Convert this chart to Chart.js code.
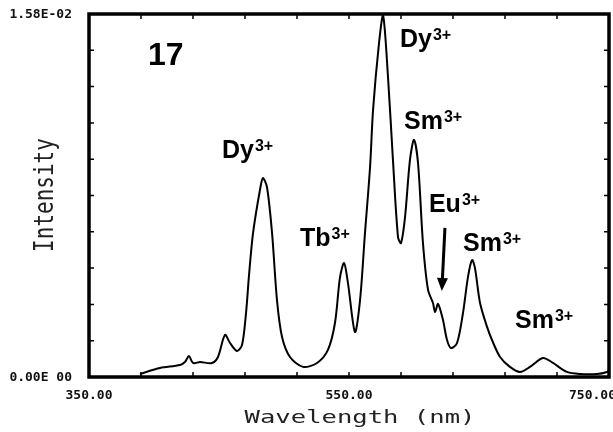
<!DOCTYPE html>
<html>
<head>
<meta charset="utf-8">
<script src="https://cdn.jsdelivr.net/npm/chart.js@4"></script>
<style>
  html, body { margin: 0; padding: 0; background: #fff; }
  #spectrum { display: block; }
</style>
</head>
<body>
<canvas id="spectrum" width="613" height="432"></canvas>
<script>
// emission spectrum, wavelength in nm
const wavelength = [
  389.2, 404.6, 420.0, 423.8, 426.9, 430.0, 435.4, 444.6, 449.2, 454.6,
  458.5, 463.8, 467.7, 470.8, 473.1, 476.2, 481.5, 483.8, 486.9, 490.8,
  494.6, 498.5, 504.6, 514.6, 525.4, 533.8, 539.2, 543.1, 546.2, 549.2,
  554.6, 558.5, 562.3, 566.2, 568.5, 573.1, 576.2, 580.0, 583.8, 587.7,
  590.0, 593.1, 596.9, 600.0, 603.1, 606.9, 610.8, 614.6, 616.2, 618.5,
  622.3, 625.4, 628.5, 633.1, 637.7, 641.5, 644.6, 646.9, 650.8, 656.2,
  660.0, 666.2, 673.8, 681.5, 689.2, 699.2, 706.9, 717.7, 727.7, 740.8,
  748.5, 750.0
];
const intensity = [
  0.00013, 0.00039, 0.00052, 0.00065, 0.00091, 0.00061, 0.00065, 0.00061, 0.00087, 0.00183,
  0.00148, 0.00113, 0.00139, 0.00279, 0.00444, 0.00627, 0.00814, 0.00866, 0.00827, 0.00627,
  0.00335, 0.00174, 0.00087, 0.00044, 0.00061, 0.00118, 0.00235, 0.00435, 0.00496, 0.00409,
  0.00196, 0.00335, 0.00627, 0.00914, 0.01162, 0.01454, 0.01576, 0.01306, 0.00945, 0.00609,
  0.00583, 0.00696, 0.00945, 0.01032, 0.00931, 0.00583, 0.00379, 0.00322, 0.00283, 0.00318,
  0.00248, 0.00161, 0.00126, 0.00148, 0.00279, 0.00435, 0.00509, 0.00474, 0.00322, 0.00218,
  0.00161, 0.00087, 0.00044, 0.00022, 0.00044, 0.00083, 0.00061, 0.00022, 0.00013, 0.00013,
  0.00022, 0.00030
];

// axis ticks and labels
const xTickValues = [350, 550, 750];
const xTickLabels = ["350.00", "550.00", "750.00"];
const yTickValues = [0, 0.0158];
const yTickLabels = ["0.00E 00", "1.58E-02"];
const xMinorStep = 40;
const yMinorStep = 0.00158;

// peak assignments: text, superscript, anchor (nm, intensity)
const peakNames = ["Dy", "Tb", "Dy", "Sm", "Eu", "Sm", "Sm"];
const peakCharges = ["3+", "3+", "3+", "3+", "3+", "3+", "3+"];
const peakLabelX = [452.3, 512.3, 589.2, 592.3, 611.5, 637.7, 677.7];
const peakLabelY = [0.00953, 0.00570, 0.01436, 0.01079, 0.00718, 0.00548, 0.00213];
const sampleId = "17";
const sampleIdAt = [395.4, 0.01358];
const arrowFrom = [623.8, 0.00649];
const arrowTo = [621.4, 0.00374];

const plotterFont = "'DejaVu Sans Mono', monospace";
const labelFont = "'Liberation Sans', Arial, Helvetica, sans-serif";

const framePlugin = {
  id: "frame",
  afterDraw(chart) {
    const ctx = chart.ctx;
    const xs = chart.scales.x, ys = chart.scales.y;
    const a = chart.chartArea;
    ctx.save();

    // inward minor ticks on all four sides
    ctx.strokeStyle = "#000";
    ctx.lineWidth = 1.5;
    ctx.beginPath();
    for (let v = xs.min + xMinorStep; v < xs.max - 1e-6; v += xMinorStep) {
      const px = xs.getPixelForValue(v);
      ctx.moveTo(px, a.bottom); ctx.lineTo(px, a.bottom - 5);
      ctx.moveTo(px, a.top); ctx.lineTo(px, a.top + 5);
    }
    for (let v = ys.min + yMinorStep; v < ys.max - 1e-9; v += yMinorStep) {
      const py = ys.getPixelForValue(v);
      ctx.moveTo(a.left, py); ctx.lineTo(a.left + 5, py);
      ctx.moveTo(a.right, py); ctx.lineTo(a.right - 5, py);
    }
    ctx.stroke();

    // heavy frame
    ctx.lineWidth = 3.5;
    ctx.strokeRect(a.left, a.top, a.right - a.left, a.bottom - a.top);

    // tick labels
    ctx.fillStyle = "#111";
    ctx.font = "bold 13px " + plotterFont;
    ctx.textBaseline = "middle";
    ctx.textAlign = "right";
    yTickValues.forEach((v, i) => {
      ctx.fillText(yTickLabels[i], 72, ys.getPixelForValue(v) + 1);
    });
    ctx.textAlign = "center";
    xTickValues.forEach((v, i) => {
      let px = xs.getPixelForValue(v);
      const w = ctx.measureText(xTickLabels[i]).width;
      px = Math.min(px, 616 - w / 2);
      ctx.fillText(xTickLabels[i], px, 396);
    });

    // axis titles
    ctx.fillStyle = "#222";
    ctx.font = "18px " + plotterFont;
    ctx.textBaseline = "alphabetic";
    ctx.save();
    ctx.translate(360, 423);
    ctx.scale(1.42, 1);
    ctx.fillText("Wavelength (nm)", 0, 0);
    ctx.restore();

    ctx.font = "21px " + plotterFont;
    ctx.save();
    ctx.translate(53, 195);
    ctx.rotate(-Math.PI / 2);
    ctx.scale(1, 1.3);
    ctx.fillText("Intensity", 0, 0);
    ctx.restore();

    // sample number and peak labels
    ctx.fillStyle = "#000";
    ctx.textAlign = "left";
    ctx.font = "bold 32px " + labelFont;
    ctx.fillText(sampleId, xs.getPixelForValue(sampleIdAt[0]), ys.getPixelForValue(sampleIdAt[1]));
    peakNames.forEach((name, i) => {
      const px = xs.getPixelForValue(peakLabelX[i]);
      const py = ys.getPixelForValue(peakLabelY[i]);
      ctx.font = "bold 25px " + labelFont;
      ctx.fillText(name, px, py);
      const w = ctx.measureText(name).width;
      ctx.font = "bold 16px " + labelFont;
      ctx.fillText(peakCharges[i], px + w + 1, py - 7);
    });

    // arrow pointing at the Eu shoulder
    const x0 = xs.getPixelForValue(arrowFrom[0]), y0 = ys.getPixelForValue(arrowFrom[1]);
    const x1 = xs.getPixelForValue(arrowTo[0]), y1 = ys.getPixelForValue(arrowTo[1]);
    const ang = Math.atan2(y1 - y0, x1 - x0);
    const head = 13, half = 5.5;
    const bx = x1 - head * Math.cos(ang), by = y1 - head * Math.sin(ang);
    ctx.lineWidth = 3;
    ctx.beginPath();
    ctx.moveTo(x0, y0); ctx.lineTo(bx, by);
    ctx.stroke();
    ctx.beginPath();
    ctx.moveTo(x1, y1);
    ctx.lineTo(bx + half * Math.sin(ang), by - half * Math.cos(ang));
    ctx.lineTo(bx - half * Math.sin(ang), by + half * Math.cos(ang));
    ctx.closePath();
    ctx.fill();

    ctx.restore();
  }
};

new Chart(document.getElementById("spectrum"), {
  type: "line",
  data: {
    datasets: [{
      data: wavelength.map((w, i) => ({ x: w, y: intensity[i] })),
      borderColor: "#000",
      borderWidth: 2,
      pointRadius: 0,
      tension: 0.3,
      fill: false
    }]
  },
  options: {
    responsive: false,
    animation: false,
    devicePixelRatio: 1,
    layout: { padding: { top: 14, right: 4, left: 0, bottom: 0 } },
    plugins: { legend: { display: false }, tooltip: { enabled: false } },
    scales: {
      x: {
        type: "linear",
        min: 350,
        max: 750,
        ticks: { display: false, stepSize: xMinorStep },
        grid: { display: false },
        border: { display: false },
        afterFit: s => { s.height = 55; }
      },
      y: {
        min: 0,
        max: 0.0158,
        ticks: { display: false, stepSize: yMinorStep },
        grid: { display: false },
        border: { display: false },
        afterFit: s => { s.width = 89; }
      }
    }
  },
  plugins: [framePlugin]
});
</script>
</body>
</html>
